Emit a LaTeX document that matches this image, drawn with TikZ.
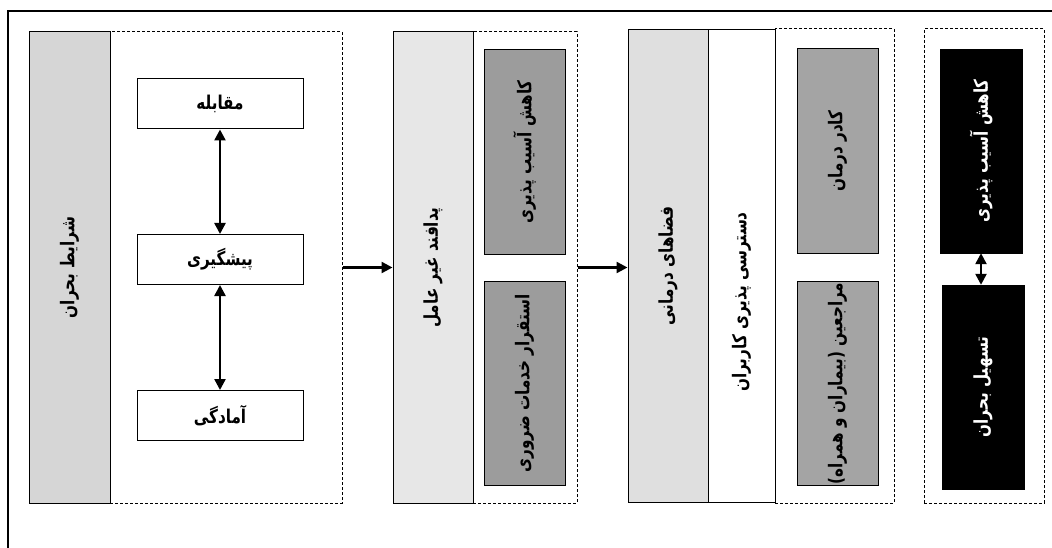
\documentclass[tikz,border=0pt]{standalone}
\usepackage{fontspec}
\newfontfamily\fafont[Script=Arabic, FakeStretch=0.8]{DejaVu Sans}
\TeXXeTstate=1
\usetikzlibrary{positioning,arrows.meta}
\definecolor{barA}{RGB}{214,214,214}
\definecolor{barB}{RGB}{231,231,231}
\definecolor{barC}{RGB}{223,223,223}
\definecolor{midgray}{RGB}{156,156,156}
\definecolor{lightgray}{RGB}{164,164,164}
\newcommand\vtxt[1]{\rotatebox{90}{\beginR #1\endR}}

\begin{document}
\begin{tikzpicture}
[x=1pt, y=-1pt,
every node/.style={inner sep=0pt, font=\fafont\bfseries\fontsize{19}{22}\selectfont},
bar/.style={draw, line width=1pt, minimum width=80pt, minimum height=471pt},
dbox/.style={draw, dash pattern=on 3pt off 2pt, line width=1pt, minimum height=471pt},
box/.style={draw, fill=white, line width=1pt, minimum width=166pt, minimum height=50pt},
gbox/.style={draw, fill=midgray, line width=1pt, minimum width=81pt, minimum height=204pt},
kbox/.style={draw, fill=black, text=white, minimum width=82pt, minimum height=204pt},
link/.style={line width=2.4pt, ->, >={Triangle[length=11pt,width=11pt]}},
dlink/.style={link, <->}]
\useasboundingbox (0,0) rectangle (1052,548);
\draw[line width=2pt] (8,548) |- (1052,11);

% crisis
\node (d1) [dbox, minimum width=232pt] at (226,267.5) {};
\node (b1) [bar, fill=barA, minimum width=81pt] at (69.5,267.5) {\vtxt{شرایط بحران}};
\node (m1) [box] at (220,104) {\beginR مقابله\endR};
\node (m2) [box] at (220,259.5) {\beginR پیشگیری\endR};
\node (m3) [box] at (220,415.5) {\beginR آمادگی\endR};
\draw[dlink] (m1) -- (m2);
\draw[dlink] (m2) -- (m3);

% passive defence
\node (d2) [dbox, minimum width=104pt] at (525,267.5) {};
\node (b2) [bar, fill=barB] at (433,267.5) {\vtxt{پدافند غیر عامل}};
\node (g1) [gbox] at (524.5,152) {\vtxt{کاهش آسیب پذیری}};
\node (g2) [gbox] at (524.5,383.5) {\vtxt{استقرار خدمات ضروری}};
\draw[link] (d1) -- (b2);

% treatment spaces
\node (d3) [dbox, minimum width=119pt, minimum height=474pt] at (834.5,266) {};
\node (b3) [bar, fill=barC, minimum height=472pt] at (668,266) {\vtxt{فضاهای درمانی}};
\node (w1) [bar, minimum width=67pt, minimum height=472pt] at (741.5,266)
  {\rotatebox{90}{\beginR دسترسی پذیری کاربران\endR\hspace{72pt}}};
\draw[link] (d2.east) -- (d2.east -| b3.west);
\node (g3) [gbox, fill=lightgray] at (837.5,151) {\vtxt{کادر درمان}};
\node (g4) [gbox, fill=lightgray] at (837.5,383.5) {\vtxt{مراجعین (بیماران و همراه)}};

% result
\node (d4) [dbox, minimum width=120pt, minimum height=474pt] at (984,266) {};
\node (k1) [kbox] at (981,151) {\vtxt{کاهش آسیب پذیری}};
\node (k2) [kbox] at (983,387) {\vtxt{تسهیل بحران}};
\draw[dlink] (k1.south) -- (k1.south |- k2.north);
\end{tikzpicture}
\end{document}
